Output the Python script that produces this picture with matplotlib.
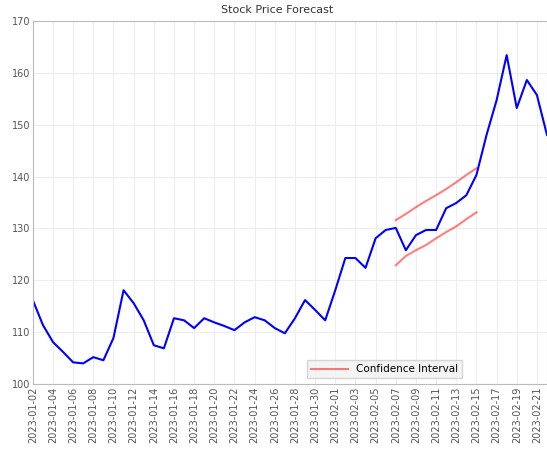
import matplotlib
matplotlib.use("Agg")
from matplotlib import pyplot as plt
import pandas as pd

# price series (one point per day)
dates = pd.date_range("2023-01-02", periods=52, freq="D")
price = [116.2, 111.4, 108.1, 106.2, 104.2, 104.0, 105.2, 104.6, 108.9, 118.1,
         115.6, 112.3, 107.5, 106.9, 112.7, 112.3, 110.8, 112.7, 111.9, 111.2,
         110.4, 111.9, 112.9, 112.3, 110.8, 109.8, 112.7, 116.2, 114.3, 112.3,
         118.1, 124.3, 124.3, 122.4, 128.1, 129.7, 130.1, 125.8, 128.7, 129.7,
         129.7, 133.9, 134.9, 136.4, 140.3, 148.0, 154.7, 163.4, 153.2, 158.6,
         155.7, 148.0]

# interval bounds, days 36..44
band_start = 36
upper = [131.6, 132.8, 134.1, 135.3, 136.4, 137.6, 138.9, 140.3, 141.6]
lower = [122.9, 124.7, 125.8, 126.8, 128.1, 129.3, 130.4, 131.8, 133.1]

yticks = [100, 110, 120, 130, 140, 150, 160, 170]
labels = [d.strftime("%Y-%m-%d") for d in dates]

fig = plt.figure(figsize=(5.47, 4.53), dpi=100)
ax = fig.add_axes([0.060, 0.152, 0.940, 0.802])

x = list(range(len(price)))
ax.plot(x, price, color="blue", lw=1.5)
bx = list(range(band_start, band_start + len(upper)))
ax.plot(bx, upper, color="red", lw=1.5, alpha=0.5, label="Confidence Interval")
ax.plot(bx, lower, color="red", lw=1.5, alpha=0.5)

ax.set_xlim(0, len(price) - 1)
ax.set_ylim(yticks[0], yticks[-1])
ax.set_yticks(yticks)
ax.set_xticks(x[::2])
ax.set_xticklabels(labels[::2], rotation=90)
ax.tick_params(labelsize=7, length=0, pad=2, colors="#555555")
ax.grid(True, color="#eeeeee", lw=0.8)
for s in ax.spines.values():
    s.set_color("#bbbbbb")

fig.text(0.506, 0.978, "Stock Price Forecast", ha="center", va="center",
         fontsize=8, color="#333333")

leg = ax.legend(loc="lower left", bbox_to_anchor=(0.533, 0.016), borderaxespad=0,
                fontsize=7.5, handlelength=3.5, frameon=True, fancybox=False)
leg.get_frame().set_facecolor("#f2f2f2")
leg.get_frame().set_edgecolor("#cccccc")

fig.savefig("out.png", dpi=100)
